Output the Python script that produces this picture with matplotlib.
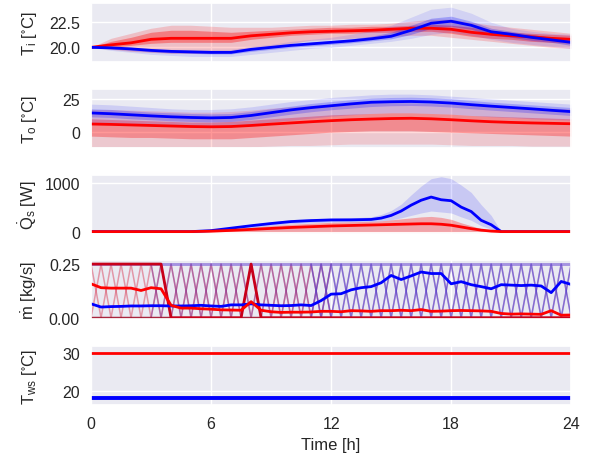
import numpy as np
import matplotlib
matplotlib.use("Agg")
import matplotlib.pyplot as plt
import seaborn as sns

sns.set_theme(style="darkgrid")
plt.rcParams['font.family'] = ['Liberation Sans', 'DejaVu Sans']
plt.rcParams['mathtext.fontset'] = 'custom'
plt.rcParams['mathtext.rm'] = 'Liberation Sans'
plt.rcParams['mathtext.default'] = 'regular'

## time axis (hours)
hours = np.arange(0, 25)
half_hours = np.arange(0, 24.5, 0.5)

## ---- indoor temperature T_i ----
ti_red = [20.0, 20.25, 20.45, 20.8, 20.9, 20.9, 20.9, 20.9, 21.15, 21.3, 21.45, 21.55, 21.6,
          21.65, 21.7, 21.8, 21.9, 21.9, 21.8, 21.5, 21.3, 21.15, 21.05, 20.9, 20.8]
ti_blue = [20.0, 19.95, 19.85, 19.7, 19.6, 19.55, 19.5, 19.5, 19.8, 20.0, 20.2, 20.35, 20.5,
           20.65, 20.85, 21.1, 21.7, 22.4, 22.6, 22.2, 21.55, 21.3, 21.0, 20.75, 20.5]
ti_red_out_hi = [20.0, 20.9, 21.4, 21.9, 22.2, 22.2, 22.1, 22.0, 22.0, 22.0, 22.1, 22.2, 22.2,
                 22.3, 22.3, 22.4, 22.6, 22.8, 22.8, 22.5, 22.2, 22.0, 21.8, 21.6, 21.4]
ti_red_out_lo = [20.0, 19.8, 19.6, 19.5, 19.4, 19.4, 19.4, 19.5, 19.8, 20.1, 20.4, 20.7, 20.8,
                 20.9, 21.0, 21.1, 21.2, 21.2, 21.0, 20.8, 20.6, 20.4, 20.2, 20.0, 19.9]
ti_red_in_hi = [20.0, 20.6, 21.0, 21.5, 21.7, 21.7, 21.6, 21.5, 21.6, 21.7, 21.8, 21.9, 22.0,
                22.0, 22.1, 22.1, 22.2, 22.3, 22.2, 22.0, 21.7, 21.5, 21.4, 21.3, 21.2]
ti_red_in_lo = [20.0, 20.0, 20.2, 20.4, 20.5, 20.5, 20.5, 20.5, 20.8, 21.0, 21.2, 21.3, 21.4,
                21.4, 21.5, 21.5, 21.6, 21.6, 21.4, 21.1, 20.9, 20.8, 20.6, 20.5, 20.4]
ti_blue_out_hi = [20.0, 20.1, 20.0, 19.9, 19.8, 19.8, 19.8, 19.8, 20.1, 20.3, 20.6, 20.8, 21.0,
                  21.3, 21.7, 22.2, 23.0, 23.8, 24.0, 23.4, 22.5, 21.9, 21.6, 21.4, 21.3]
ti_blue_out_lo = [20.0, 19.7, 19.5, 19.3, 19.2, 19.1, 19.1, 19.1, 19.3, 19.5, 19.7, 19.9, 20.0,
                  20.2, 20.4, 20.6, 20.9, 21.3, 21.5, 21.2, 20.8, 20.5, 20.3, 20.1, 19.9]
ti_blue_in_hi = [20.0, 20.0, 19.95, 19.8, 19.75, 19.7, 19.65, 19.65, 19.95, 20.15, 20.35, 20.5, 20.65,
                 20.85, 21.1, 21.5, 22.2, 22.9, 23.1, 22.6, 21.9, 21.6, 21.3, 21.0, 20.8]
ti_blue_in_lo = [20.0, 19.85, 19.7, 19.55, 19.45, 19.4, 19.35, 19.35, 19.6, 19.8, 20.0, 20.15, 20.3,
                 20.45, 20.65, 20.85, 21.3, 21.9, 22.1, 21.8, 21.2, 21.0, 20.7, 20.5, 20.2]

## ---- outdoor temperature T_o ----
to_red = [6.1, 5.8, 5.4, 5.0, 4.6, 4.2, 4.0, 4.2, 5.0, 6.0, 6.9, 7.8, 8.6,
          9.3, 9.8, 10.2, 10.4, 10.0, 9.3, 8.5, 7.8, 7.3, 6.9, 6.6, 6.3]
to_blue = [14.4, 13.8, 13.0, 12.2, 11.5, 11.0, 10.7, 11.0, 12.5, 14.6, 16.7, 18.4, 19.8,
           21.2, 22.4, 22.8, 23.0, 22.6, 21.8, 20.6, 19.5, 18.5, 17.5, 16.4, 15.4]
to_red_out_hi = [17, 17, 16.5, 16, 15.5, 15, 15, 15.5, 16.5, 18, 19, 20, 21,
                 21.5, 22, 22, 22, 21.5, 21, 20, 19.5, 19, 18.5, 18, 17.5]
to_red_out_lo = [-11, -11, -11, -11, -11, -11, -11, -11, -11, -10.5, -10, -10, -9.5,
                 -9, -9, -9, -9, -9, -9.5, -10, -10, -10, -10.5, -10.5, -10.5]
to_red_in_hi = [10, 9.5, 9, 8.5, 8, 7.5, 7.5, 8, 9, 10, 11, 12, 13,
                13.5, 14, 14.5, 14.5, 14, 13.5, 12.5, 12, 11.5, 11, 10.5, 10]
to_red_in_lo = [-3, -3.5, -4, -4, -4.5, -5, -5, -5, -4, -3, -2, -1, 0,
                0.5, 1, 1, 1, 0.5, 0, -0.5, -1, -1.5, -2, -2.5, -3]
to_blue_out_hi = [21, 20.5, 19.5, 18.5, 17.5, 17, 17, 17.5, 19, 21, 23, 24.5, 26,
                  27, 28, 28.5, 28.5, 28, 27, 26, 25, 24, 23, 22, 21]
to_blue_out_lo = [7, 6.5, 6, 5.5, 5, 4.5, 4.5, 5, 6, 7.5, 9, 10.5, 12,
                  13, 14, 14.5, 14.5, 14, 13.5, 12.5, 11.5, 11, 10, 9.5, 9]
to_blue_in_hi = [17.5, 17, 16, 15, 14.5, 14, 13.7, 14, 15.5, 17.5, 19.5, 21.5, 23,
                 24.3, 25.5, 26, 26.2, 25.8, 25, 23.8, 22.5, 21.5, 20.5, 19.5, 18.5]
to_blue_in_lo = [11.5, 11, 10, 9.3, 8.5, 8, 7.7, 8, 9.5, 11.5, 13.5, 15.3, 16.8,
                 18, 19.2, 19.8, 20, 19.6, 18.8, 17.6, 16.5, 15.5, 14.5, 13.5, 12.5]

## ---- supplied heat Q_s ----
q_hours = [0, 5, 6, 7, 8, 9, 10, 11, 12, 13, 14, 14.5, 15, 15.5, 16, 16.5, 17, 17.5,
           18, 18.5, 19, 19.5, 20, 20.5, 24]
q_blue = [0, 0, 20, 70, 120, 165, 205, 225, 238, 240, 248, 275, 330, 420, 540, 640, 705, 650,
          630, 500, 410, 230, 140, 0, 0]
q_red = [0, 0, 8, 25, 45, 65, 85, 100, 115, 125, 135, 140, 145, 150, 155, 160, 160, 150,
         130, 95, 60, 30, 10, 0, 0]
q_blue_hi = [0, 0, 30, 90, 150, 200, 245, 265, 275, 280, 300, 350, 430, 560, 750, 930, 1080, 1120,
             1080, 950, 800, 550, 330, 0, 0]
q_blue_lo = [0, 0, 5, 40, 80, 120, 160, 180, 195, 200, 205, 220, 240, 280, 330, 380, 420, 400,
             380, 300, 230, 120, 50, 0, 0]
q_red_hi = [0, 0, 15, 50, 85, 120, 150, 170, 190, 200, 210, 220, 240, 260, 280, 300, 310, 290,
            250, 180, 120, 60, 20, 0, 0]
q_red_lo = [0] * 25

## ---- mass flow m_dot (half-hourly) ----
mdot_blue = [0.065, 0.05, 0.052, 0.053, 0.055, 0.055, 0.056, 0.056, 0.055, 0.055, 0.056, 0.058,
             0.055, 0.053, 0.06, 0.06, 0.065, 0.06, 0.058, 0.056, 0.057, 0.06, 0.057, 0.08,
             0.11, 0.112, 0.13, 0.14, 0.145, 0.163, 0.197, 0.178, 0.195, 0.213, 0.206, 0.206,
             0.158, 0.168, 0.154, 0.145, 0.135, 0.154, 0.152, 0.15, 0.152, 0.148, 0.117, 0.169, 0.155]
mdot_red = [0.158, 0.14, 0.138, 0.138, 0.138, 0.127, 0.14, 0.135, 0.058, 0.045, 0.045, 0.042,
            0.04, 0.037, 0.036, 0.035, 0.075, 0.035, 0.028, 0.025, 0.026, 0.026, 0.027, 0.03,
            0.03, 0.028, 0.033, 0.032, 0.03, 0.033, 0.033, 0.035, 0.033, 0.038, 0.03, 0.031,
            0.033, 0.034, 0.033, 0.032, 0.03, 0.02, 0.017, 0.018, 0.017, 0.016, 0.033, 0.012, 0.013]
# on/off controlled trajectories
mdot_zig_a = [0.25, 0, 0.25, 0, 0.25, 0, 0.25, 0, 0.25, 0, 0.25, 0, 0.25, 0, 0.25, 0, 0.25,
              0, 0.25, 0, 0.25, 0, 0.25, 0, 0.25, 0, 0.25, 0, 0.25, 0, 0.25, 0, 0.25, 0,
              0.25, 0, 0.25, 0, 0.25, 0, 0.25, 0, 0.25, 0, 0.25, 0, 0.25, 0, 0.25]
mdot_zig_b = [0, 0.25, 0, 0.25, 0, 0.25, 0, 0.25, 0, 0.25, 0, 0.25, 0, 0.25, 0, 0.25, 0,
              0.25, 0, 0.25, 0, 0.25, 0, 0.25, 0, 0.25, 0, 0.25, 0, 0.25, 0, 0.25, 0, 0.25,
              0, 0.25, 0, 0.25, 0, 0.25, 0, 0.25, 0, 0.25, 0, 0.25, 0, 0.25, 0]
mdot_sat = [0.25, 0.25, 0.25, 0.25, 0.25, 0.25, 0.25, 0.25, 0, 0, 0, 0, 0, 0, 0, 0, 0.25,
            0, 0, 0, 0, 0, 0, 0, 0, 0, 0, 0, 0, 0, 0, 0, 0, 0, 0, 0, 0, 0, 0, 0, 0, 0,
            0, 0, 0, 0, 0, 0, 0]
mdot_max = [0.25] * 49
mdot_off = [0.0] * 49
# (start h, end h, colour) for each group of on/off trajectories
zig_groups = [(0, 12, '#d8304c'), (3, 24, '#7a2e9c'), (11, 24, '#4a3ad8')]

## ---- supply water temperature ----
tws_hot = 30.0
tws_cold = 18.0

fig, axes = plt.subplots(5, 1, sharex=True, figsize=(5.95, 4.6), dpi=100)
fig.subplots_adjust(left=0.153, right=0.96, top=0.991, bottom=0.117, hspace=0.445)

def cloud(ax, t, out_lo, out_hi, in_lo, in_hi, col, a_out=0.14, a_in=0.3):
    ax.fill_between(t, out_lo, out_hi, color=col, alpha=a_out, lw=0)
    if in_lo is not None:
        ax.fill_between(t, in_lo, in_hi, color=col, alpha=a_in, lw=0)

ax = axes[0]
cloud(ax, hours, ti_red_out_lo, ti_red_out_hi, ti_red_in_lo, ti_red_in_hi, 'red', 0.18, 0.35)
cloud(ax, hours, ti_blue_out_lo, ti_blue_out_hi, ti_blue_in_lo, ti_blue_in_hi, 'blue', 0.1, 0.25)
ax.plot(hours, ti_red, color='red', lw=2)
ax.plot(hours, ti_blue, color='blue', lw=2)
ax.set_ylim(18.5, 24.4)
ax.set_yticks([20.0, 22.5])
ax.set_yticklabels(['20.0', '22.5'])
ax.set_ylabel(r'T$_\mathrm{i}$ [$^{\circ}$C]')

ax = axes[1]
cloud(ax, hours, to_red_out_lo, to_red_out_hi, to_red_in_lo, to_red_in_hi, 'red', 0.14, 0.3)
cloud(ax, hours, to_blue_out_lo, to_blue_out_hi, to_blue_in_lo, to_blue_in_hi, 'blue', 0.12, 0.22)
ax.plot(hours, to_blue, color='blue', lw=2)
ax.plot(hours, to_red, color='red', lw=2)
ax.set_ylim(-12, 32.5)
ax.set_yticks([0, 25])
ax.set_ylabel(r'T$_\mathrm{o}$ [$^{\circ}$C]')

ax = axes[2]
cloud(ax, q_hours, q_red_lo, q_red_hi, None, None, 'red', 0.3)
cloud(ax, q_hours, q_blue_lo, q_blue_hi, None, None, 'blue', 0.14)
ax.plot(q_hours, q_blue, color='blue', lw=2)
ax.plot(q_hours, q_red, color='red', lw=2)
ax.set_ylim(-45, 1165)
ax.set_yticks([0, 1000])
ax.set_ylabel(r'$\dot{Q}_\mathrm{s}$ [W]')

ax = axes[3]
for start, end, col in zig_groups:
    m = (half_hours >= start) & (half_hours <= end)
    ax.plot(half_hours[m], np.array(mdot_zig_a)[m], color=col, lw=1.1, alpha=0.45)
    ax.plot(half_hours[m], np.array(mdot_zig_b)[m], color=col, lw=1.1, alpha=0.45)
ax.plot(half_hours, mdot_max, color='#6a4ad0', lw=2, alpha=0.6)
ax.plot(half_hours, mdot_off, color='#a0102a', lw=2.5, alpha=0.9)
ax.plot(half_hours, mdot_sat, color='#c8001a', lw=2)
ax.plot(half_hours, mdot_blue, color='blue', lw=2)
ax.plot(half_hours, mdot_red, color='red', lw=2)
ax.set_ylim(-0.008, 0.268)
ax.set_yticks([0.0, 0.25])
ax.set_yticklabels(['0.00', '0.25'])
ax.set_ylabel(r'$\dot{m}$ [kg/s]')

ax = axes[4]
ax.plot(hours, np.full(len(hours), tws_hot), color='red', lw=2)
ax.plot(hours, np.full(len(hours), tws_cold), color='blue', lw=2.8)
ax.set_ylim(16.2, 32.0)
ax.set_yticks([20, 30])
ax.set_ylabel(r'T$_\mathrm{ws}$ [$^{\circ}$C]')

ax.set_xlim(0, 24)
ax.set_xticks([0, 6, 12, 18, 24])
ax.set_xlabel('Time [h]', fontsize=12)

for a in axes:
    a.tick_params(labelsize=11.5, pad=2)
    a.yaxis.label.set_size(12)

fig.align_ylabels(axes)
fig.savefig('out.png', dpi=100)
